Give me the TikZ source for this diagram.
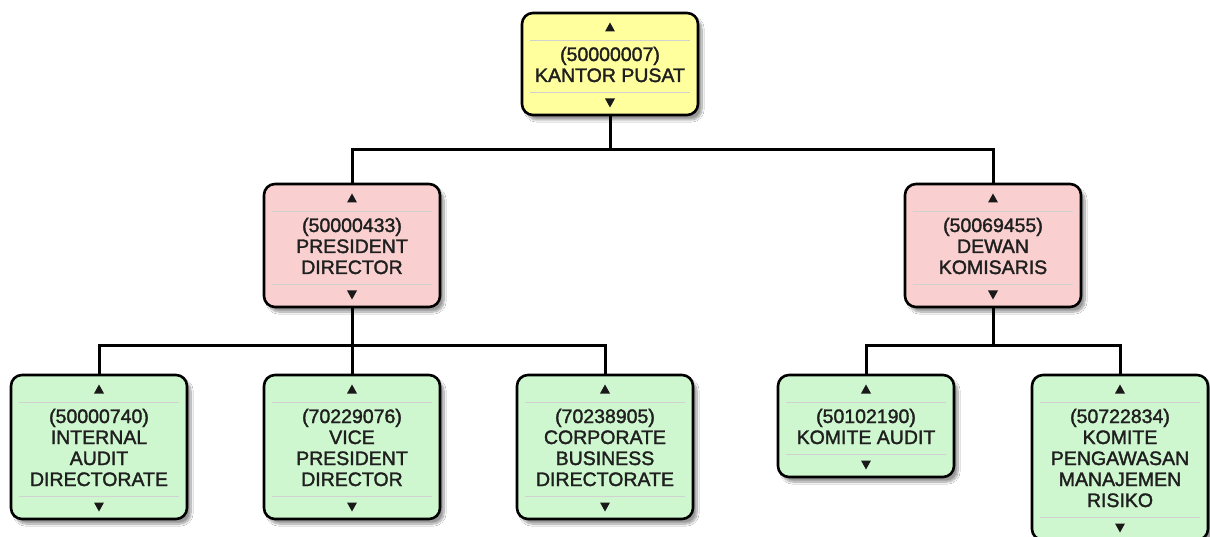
\documentclass[tikz,border=0pt]{standalone}
\usepackage{fontspec}
\setmainfont{Liberation Sans}
\newfontfamily\orgfont[FakeBold=1.7]{Liberation Sans}
\usetikzlibrary{backgrounds,shadows.blur}

\definecolor{yel}{HTML}{FFFF9E}
\definecolor{pnk}{HTML}{F9CFCF}
\definecolor{grn}{HTML}{CFF7CF}

\tikzset{
  orgbox/.style={draw=black, line width=2.6pt, rounded corners=11pt,
    minimum width=176pt, inner sep=0pt,
    blur shadow={shadow xshift=4pt, shadow yshift=-5pt, shadow blur steps=10,
      shadow blur extra rounding=2pt, shadow opacity=40}},
  conn/.style={draw=black, line width=3pt},
  orgtext/.style={font=\orgfont\fontsize{19.5}{21}\selectfont, text=black!88,
    inner sep=0pt, anchor=base},
  divider/.style={draw=black!18, line width=0.7pt},
  tri/.style={fill=black!90},
}

% #1 name, #2 centre x, #3 top y, #4 number of text lines, #5 fill, #6 lines
\newcommand\orgbox[6]{%
  \pgfmathsetmacro\obh{60+21*#4}%
  \pgfmathsetmacro\obc{#3+\obh/2}%
  \pgfmathsetmacro\obd{#3+37+21*#4}%
  \pgfmathsetmacro\oba{#3+48+21*#4}%
  \node[orgbox, fill=#5, minimum height=\obh pt] (#1) at (#2,\obc) {};
  \draw[divider] (#2-80,#3+27) -- (#2+80,#3+27);
  \draw[divider] (#2-80,\obd) -- (#2+80,\obd);
  \fill[tri] (#2,#3+9.5) -- (#2+5,#3+18.5) -- (#2-5,#3+18.5) -- cycle;
  \fill[tri] (#2,\oba+4.5) -- (#2+5,\oba-4.5) -- (#2-5,\oba-4.5) -- cycle;
  \foreach \t [count=\i] in {#6}{
    \node[orgtext] (#1-l\i) at (#2,#3+48+21*\i-21) {\t};
  }
}

\begin{document}
\begin{tikzpicture}[x=1pt,y=-1pt]
\useasboundingbox (0,0) rectangle (1210,537);

\orgbox{root}{610}{13}{2}{yel}{{(50000007)},{KANTOR PUSAT}}
\orgbox{pd}{352}{184}{3}{pnk}{{(50000433)},{PRESIDENT},{DIRECTOR}}
\orgbox{dk}{993}{184}{3}{pnk}{{(50069455)},{DEWAN},{KOMISARIS}}
\orgbox{iad}{99}{375}{4}{grn}{{(50000740)},{INTERNAL},{AUDIT},{DIRECTORATE}}
\orgbox{vpd}{352}{375}{4}{grn}{{(70229076)},{VICE},{PRESIDENT},{DIRECTOR}}
\orgbox{cbd}{605}{375}{4}{grn}{{(70238905)},{CORPORATE},{BUSINESS},{DIRECTORATE}}
\orgbox{ka}{866}{375}{2}{grn}{{(50102190)},{KOMITE AUDIT}}
\orgbox{kpmr}{1120}{375}{5}{grn}{{(50722834)},{KOMITE},{PENGAWASAN},{MANAJEMEN},{RISIKO}}

\coordinate (j1) at (610,150);
\coordinate (j2) at (352,345);
\coordinate (j3) at (993,345);

\begin{scope}[on background layer]
  \fill[white] (0,0) rectangle (1210,537);
  \draw[conn] (root.south) -- (j1);
  \draw[conn] (pd.north) |- (j1) -| (dk.north);
  \draw[conn] (pd.south) -- (j2);
  \draw[conn] (iad.north) |- (j2) -| (cbd.north);
  \draw[conn] (vpd.north) -- (j2);
  \draw[conn] (dk.south) -- (j3);
  \draw[conn] (ka.north) |- (j3) -| (kpmr.north);
\end{scope}
\end{tikzpicture}
\end{document}
